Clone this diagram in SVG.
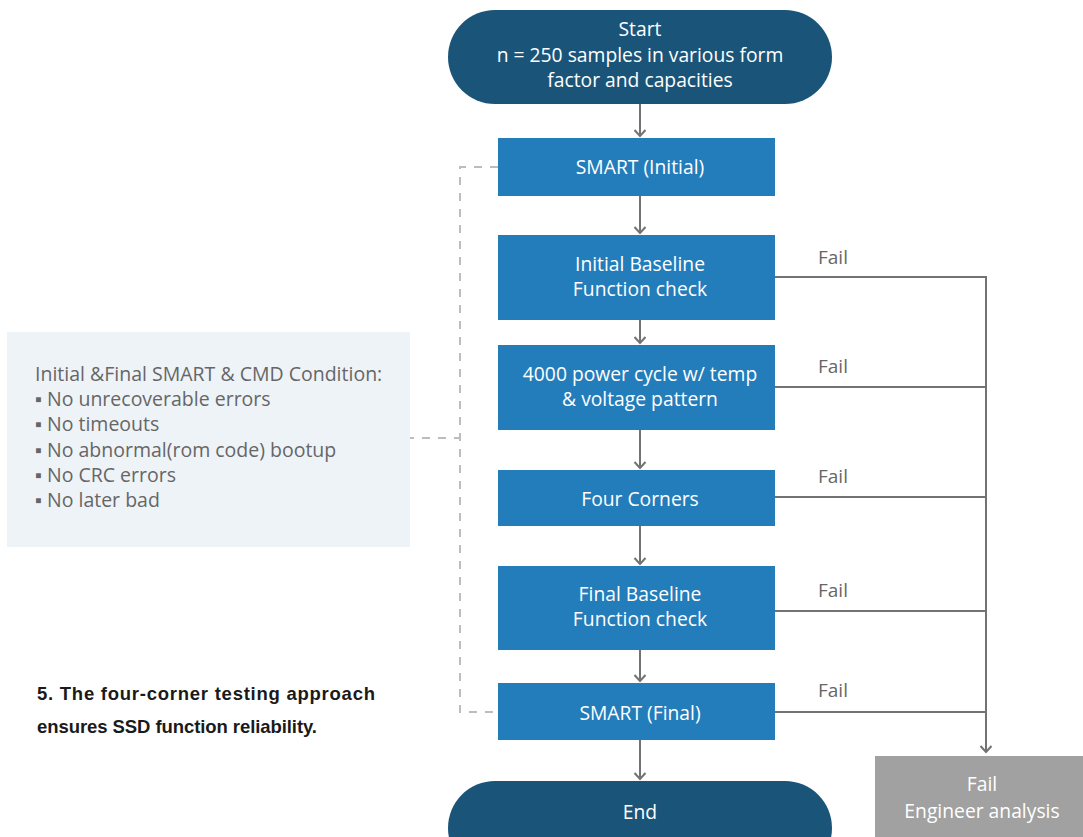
<svg xmlns="http://www.w3.org/2000/svg" width="1083" height="837" viewBox="0 0 1083 837">
<defs>
<style>
.pill{fill:#1a5579}
.box{fill:#237dbb}
.wt{fill:#fff;font-family:"Open Sans","Noto Sans",sans-serif;font-size:19.3px;text-anchor:middle}
.gt{fill:#666;font-family:"Open Sans","Noto Sans",sans-serif;font-size:19px}
.ct{fill:#666;font-family:"Open Sans","Noto Sans",sans-serif;font-size:19.5px}
.ln{stroke:#737373;stroke-width:2;fill:none}
.ds{stroke:#bdbdbd;stroke-width:2;fill:none;stroke-dasharray:8 8}
.cap{fill:#1a1a1a;font-family:"Liberation Sans",Arial,sans-serif;font-size:18.5px;font-weight:bold}
</style>
<marker id="ah" markerWidth="14" markerHeight="14" refX="10" refY="7" orient="auto" markerUnits="userSpaceOnUse">
<path d="M4,1.5 L10,7 L4,12.5" fill="none" stroke="#737373" stroke-width="2"/>
</marker>
</defs>
<rect width="1083" height="837" fill="#fff"/>
<g id="connectors">
<line class="ln" x1="640" y1="104" x2="640" y2="136" marker-end="url(#ah)"/>
<line class="ln" x1="640" y1="196" x2="640" y2="233" marker-end="url(#ah)"/>
<line class="ln" x1="640" y1="320" x2="640" y2="343" marker-end="url(#ah)"/>
<line class="ln" x1="640" y1="430" x2="640" y2="468" marker-end="url(#ah)"/>
<line class="ln" x1="640" y1="526" x2="640" y2="564" marker-end="url(#ah)"/>
<line class="ln" x1="640" y1="650" x2="640" y2="681" marker-end="url(#ah)"/>
<line class="ln" x1="640" y1="740" x2="640" y2="779" marker-end="url(#ah)"/>
<line class="ln" x1="775" y1="277" x2="987" y2="277"/>
<line class="ln" x1="775" y1="387" x2="987" y2="387"/>
<line class="ln" x1="775" y1="497" x2="987" y2="497"/>
<line class="ln" x1="775" y1="611" x2="987" y2="611"/>
<line class="ln" x1="775" y1="712" x2="987" y2="712"/>
<line class="ln" x1="986" y1="276" x2="986" y2="752" marker-end="url(#ah)"/>
<path class="ds" d="M498,167 H460 V712 H498"/>
<line class="ds" x1="406" y1="438" x2="460" y2="438"/>
<text class="gt" x="818" y="264">Fail</text>
<text class="gt" x="818" y="373">Fail</text>
<text class="gt" x="818" y="483">Fail</text>
<text class="gt" x="818" y="597">Fail</text>
<text class="gt" x="818" y="697">Fail</text>
</g>
<g id="start">
<rect class="pill" x="448" y="10" width="384" height="94" rx="47"/>
<text class="wt" x="640" y="36">Start</text>
<text class="wt" x="640" y="62">n = 250 samples in various form</text>
<text class="wt" x="640" y="87">factor and capacities</text>
</g>
<g id="smart-initial">
<rect class="box" x="498" y="138" width="277" height="58"/>
<text class="wt" x="640" y="174">SMART (Initial)</text>
</g>
<g id="initial-baseline">
<rect class="box" x="498" y="235" width="277" height="85"/>
<text class="wt" x="640" y="271">Initial Baseline</text>
<text class="wt" x="640" y="296">Function check</text>
</g>
<g id="power-cycle">
<rect class="box" x="498" y="345" width="277" height="85"/>
<text class="wt" x="640" y="381">4000 power cycle w/ temp</text>
<text class="wt" x="640" y="406">&amp; voltage pattern</text>
</g>
<g id="four-corners">
<rect class="box" x="498" y="470" width="277" height="56"/>
<text class="wt" x="640" y="506">Four Corners</text>
</g>
<g id="final-baseline">
<rect class="box" x="498" y="566" width="277" height="84"/>
<text class="wt" x="640" y="601">Final Baseline</text>
<text class="wt" x="640" y="626">Function check</text>
</g>
<g id="smart-final">
<rect class="box" x="498" y="683" width="277" height="57"/>
<text class="wt" x="640" y="720">SMART (Final)</text>
</g>
<g id="end">
<rect class="pill" x="448" y="781" width="384" height="94" rx="47"/>
<text class="wt" x="640" y="819">End</text>
</g>
<g id="fail-analysis">
<rect x="875" y="756" width="210" height="90" fill="#a0a1a0"/>
<text class="wt" x="982" y="791">Fail</text>
<text class="wt" x="982" y="818">Engineer analysis</text>
</g>
<g id="conditions">
<rect x="7" y="332" width="403" height="215" fill="#eef3f8"/>
<text class="ct" x="35" y="381">Initial &amp;Final SMART &amp; CMD Condition:</text>
<text class="ct" x="35" y="406">▪ No unrecoverable errors</text>
<text class="ct" x="35" y="431">▪ No timeouts</text>
<text class="ct" x="35" y="457">▪ No abnormal(rom code) bootup</text>
<text class="ct" x="35" y="482">▪ No CRC errors</text>
<text class="ct" x="35" y="507">▪ No later bad</text>
</g>
<g id="caption">
<text class="cap" x="37" y="700" textLength="338" lengthAdjust="spacing">5. The four-corner testing approach</text>
<text class="cap" x="37" y="733" textLength="280" lengthAdjust="spacing">ensures SSD function reliability.</text>
</g>
</svg>
